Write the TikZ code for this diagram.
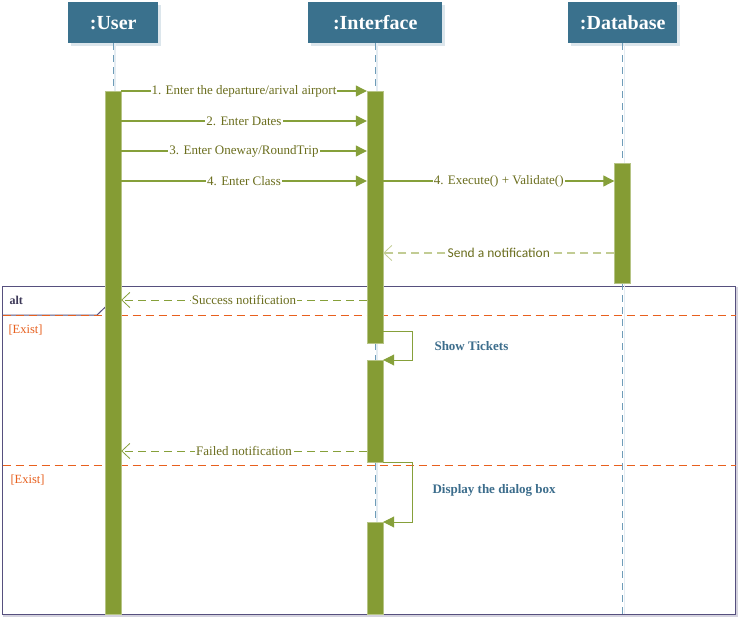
\documentclass[tikz,border=0pt]{standalone}
\usepackage{fontspec}
\setmainfont{Liberation Serif}
\newfontfamily\carlito{Carlito}
\usetikzlibrary{arrows.meta,shadows}

\definecolor{hdr}{HTML}{3A718D}
\definecolor{hdrshadow}{HTML}{DCE6EC}
\definecolor{barfill}{HTML}{859C34}
\definecolor{msgline}{HTML}{86A03A}
\definecolor{msgtxt}{HTML}{6B6E1E}
\definecolor{faint}{HTML}{C2CC94}
\definecolor{lifecol}{HTML}{6E9CB8}
\definecolor{lifeshade}{HTML}{E4ECF2}
\definecolor{framecol}{HTML}{56507E}
\definecolor{guardcol}{RGB}{232,96,30}
\definecolor{notecol}{HTML}{3C6D8C}

\tikzset{
  hdrbox/.style={fill=hdr, text=white, anchor=north west, minimum height=41pt,
    inner sep=0pt, font=\bfseries\fontsize{20}{24}\selectfont,
    general shadow={fill=hdrshadow, shadow xshift=3pt, shadow yshift=-3pt}},
  lifeline/.style={draw=lifecol, line width=1pt, dash pattern=on 7pt off 5pt},
  lifeshadow/.style={draw=lifeshade, line width=1.5pt},
  actbar/.style={fill=barfill, draw=barfill!60!white, line width=0.4pt,
    minimum width=16pt, inner sep=0pt, anchor=north},
  callmsg/.style={draw=msgline, line width=1.1pt,
    -{Triangle[length=11pt,width=11pt,fill=msgline]}},
  selfmsg/.style={draw=msgline, line width=0.9pt,
    -{Triangle[length=11pt,width=11pt,fill=msgline]}},
  replymsg/.style={draw=msgline, line width=1pt, dash pattern=on 8pt off 5pt,
    -{Straight Barb[length=8pt,width=15pt,line width=0.8pt]}},
  faintreply/.style={draw=faint, line width=1.2pt, dash pattern=on 8pt off 5pt,
    -{Straight Barb[length=8pt,width=15pt,line width=0.8pt]}},
  msglabel/.style={fill=white, inner xsep=1pt, inner ysep=0pt, text=msgtxt,
    font=\fontsize{13}{15}\selectfont},
  notelabel/.style={anchor=west, text=notecol, font=\bfseries\fontsize{13}{15}\selectfont},
  guardlabel/.style={anchor=west, text=guardcol, font=\fontsize{12.5}{14}\selectfont},
  guardline/.style={color=guardcol, line width=1.2pt, dash pattern=on 8pt off 5pt},
}

\begin{document}
\begin{tikzpicture}[x=1pt,y=-1pt]
\useasboundingbox (0,0) rectangle (738,620);

% combined fragment
\draw[framecol!25, line width=2pt] (4,288) rectangle (737,616);
\draw[framecol, line width=1pt, fill=white] (2.5,286.5) rectangle (735.5,614.5);
\draw[framecol, line width=1pt, fill=white] (2.5,315) -- (97,315) -- (108.5,304) -- (108.5,286.5);
\node[anchor=west, text=framecol!70!black, font=\bfseries\fontsize{12}{14}\selectfont] (altlbl) at (6,300) {alt};
\draw[guardline] (2.5,315.5) -- (735.5,315.5);
\draw[guardline] (2.5,465.5) -- (735.5,465.5);
\node[guardlabel] (g1) at (5,330) {[Exist]};
\node[guardlabel] (g2) at (7,480) {[Exist]};

% participants
\node[hdrbox, minimum width=90pt]  (user) at (68,2)  {:User};
\node[hdrbox, minimum width=134pt] (ui)   at (308,2) {:Interface};
\node[hdrbox, minimum width=109pt] (db)   at (568,2) {:Database};

% lifelines
\coordinate (userend) at (user.south |- 0,614);
\coordinate (uiend)   at (ui.south |- 0,614);
\coordinate (dbend)   at (db.south |- 0,614);
\draw[lifeshadow] ([xshift=2pt]user.south) -- ([xshift=2pt]userend);
\draw[lifeshadow] ([xshift=2pt]ui.south) -- ([xshift=2pt]uiend);
\draw[lifeshadow] ([xshift=2pt]db.south) -- ([xshift=2pt]dbend);
\draw[lifeline] (user.south) -- (userend);
\draw[lifeline] (ui.south) -- (uiend);
\draw[lifeline] (db.south) -- (dbend);

% activation bars
\node[actbar, minimum height=523pt] (ub)  at (113,91)  {};
\node[actbar, minimum height=252pt] (ib1) at (375,91)  {};
\node[actbar, minimum height=102pt] (ib2) at (375,360) {};
\node[actbar, minimum height=92pt]  (ib3) at (375,522) {};
\node[actbar, minimum height=120pt] (dbb) at (622.5,163) {};

% calls
\draw[callmsg] (ub.east |- 0,91)  -- node[msglabel] {1. Enter the departure/arival airport} (ib1.west |- 0,91);
\draw[callmsg] (ub.east |- 0,121) -- node[msglabel] {2. Enter Dates} (ib1.west |- 0,121);
\draw[callmsg] (ub.east |- 0,151) -- node[msglabel] {3. Enter Oneway/RoundTrip} (ib1.west |- 0,151);
\draw[callmsg] (ub.east |- 0,181) -- node[msglabel] {4. Enter Class} (ib1.west |- 0,181);
\draw[callmsg] (ib1.east |- 0,181) -- node[msglabel] {4. Execute() + Validate()} (dbb.west |- 0,181);

% replies
\draw[faintreply] (dbb.west |- 0,253) -- node[msglabel, font=\carlito\fontsize{13.5}{15}\selectfont] {Send a notification} (ib1.east |- 0,253);
\draw[replymsg] (ib1.west |- 0,300) -- node[msglabel] {Success notification} (ub.east |- 0,300);
\draw[replymsg] (ib2.west |- 0,451) -- node[msglabel] {Failed notification} (ub.east |- 0,451);

% self calls
\draw[selfmsg] (ib1.east |- 0,331) -- ++(29,0) |- (ib2.north east);
\draw[selfmsg] (ib2.south east) -- ++(29,0) |- (ib3.north east);
\node[notelabel] (n1) at (431,346) {Show Tickets};
\node[notelabel] (n2) at (429,490) {Display the dialog box};
\end{tikzpicture}
\end{document}
